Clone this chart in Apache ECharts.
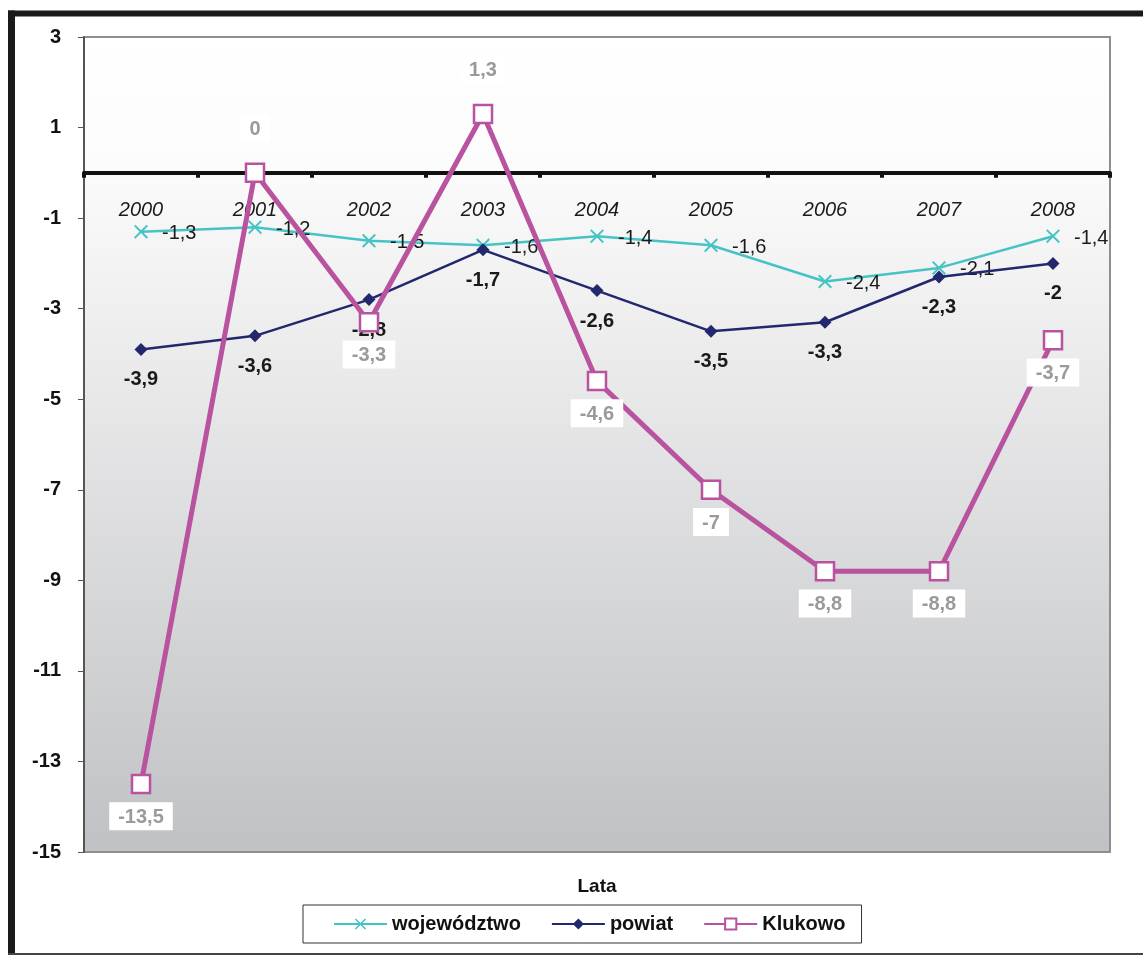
<!DOCTYPE html>
<html>
<head>
<meta charset="utf-8">
<title>Lata</title>
<script src="https://cdn.jsdelivr.net/npm/echarts@6/dist/echarts.min.js"></script>
<style>
    html, body { margin: 0; padding: 0; background: #fff; }
    #main { width: 1143px; height: 955px; }
</style>
</head>
<body>
<div id="main"></div>
<script>
// dane z wykresu
var lata = ['2000', '2001', '2002', '2003', '2004', '2005', '2006', '2007', '2008'];
var wojewodztwo = [-1.3, -1.2, -1.5, -1.6, -1.4, -1.6, -2.4, -2.1, -1.4];
var powiat = [-3.9, -3.6, -2.8, -1.7, -2.6, -3.5, -3.3, -2.3, -2.0];
var klukowo = [-13.5, 0, -3.3, 1.3, -4.6, -7, -8.8, -8.8, -3.7];
var osY = [3, 1, -1, -3, -5, -7, -9, -11, -13, -15];

var FONT = '"Liberation Sans", Arial, sans-serif';

// przecinek dziesiętny
function fmt(p) {
    return String(p.value).replace('.', ',');
}

var myChart = echarts.init(document.getElementById('main'));

var option = {
    animation: false,
    textStyle: { fontFamily: FONT },
    grid: {
        left: 84,
        right: 33,
        top: 37,
        bottom: 103,
        show: true,
        borderColor: '#8e8e8e',
        borderWidth: 2,
        backgroundColor: {
            type: 'linear', x: 0, y: 0, x2: 0, y2: 1,
            colorStops: [
                { offset: 0, color: '#ffffff' },
                { offset: 0.15, color: '#fcfcfc' },
                { offset: 1, color: '#c0c1c4' }
            ]
        }
    },
    legend: {
        left: 303,
        top: 905,
        padding: [9, 16, 9, 30],
        itemGap: 30,
        itemWidth: 53,
        itemHeight: 14,
        borderColor: '#333',
        borderWidth: 1,
        backgroundColor: '#fff',
        textStyle: { fontFamily: FONT, fontSize: 20, fontWeight: 'bold', color: '#111' },
        data: ['województwo', 'powiat', 'Klukowo']
    },
    graphic: [
        // ramka
        { type: 'line', shape: { x1: 8, y1: 13.5, x2: 1143, y2: 13.5 }, style: { stroke: '#1a1a1a', lineWidth: 6 } },
        { type: 'line', shape: { x1: 11.5, y1: 10.5, x2: 11.5, y2: 955 }, style: { stroke: '#1a1a1a', lineWidth: 7 } },
        { type: 'line', shape: { x1: 8, y1: 954, x2: 1143, y2: 954 }, style: { stroke: '#444', lineWidth: 2 } },
        {
            type: 'text', x: 597, y: 887,
            style: { text: 'Lata', font: 'bold 19px ' + FONT, fill: '#111', align: 'center', verticalAlign: 'middle' }
        }
    ],
    xAxis: [
        {
            // linia zera z kreskami
            type: 'category',
            data: lata,
            boundaryGap: true,
            axisLine: { onZero: true, lineStyle: { color: '#111', width: 4 } },
            axisTick: { show: true, length: 5, lineStyle: { color: '#111', width: 4 } },
            axisLabel: { show: false },
            splitLine: { show: false }
        },
        {
            // podpisy lat pod linią zera
            type: 'category',
            data: lata,
            boundaryGap: true,
            position: 'top',
            axisLine: { show: false },
            axisTick: { show: false },
            axisLabel: {
                inside: true, margin: 163,
                fontFamily: FONT, fontSize: 20, fontStyle: 'italic', color: '#1a1a1a'
            },
            splitLine: { show: false }
        }
    ],
    yAxis: {
        type: 'value',
        min: -15,
        max: 3,
        axisLine: { show: true, onZero: false, lineStyle: { color: '#555', width: 2 } },
        axisTick: { show: true, length: 6, customValues: osY, lineStyle: { color: '#555', width: 1 } },
        axisLabel: { fontFamily: FONT, fontSize: 20, fontWeight: 'bold', color: '#111', margin: 23, customValues: osY },
        splitLine: { show: false }
    },
    series: [
        {
            name: 'województwo',
            type: 'line',
            data: wojewodztwo,
            symbol: 'path://M0,1 L1,0 L5,4 L9,0 L10,1 L6,5 L10,9 L9,10 L5,6 L1,10 L0,9 L4,5 Z',
            symbolSize: 14,
            color: '#45c3c5',
            lineStyle: { color: '#45c3c5', width: 2.5 },
            itemStyle: { color: '#45c3c5' },
            label: {
                show: true, position: 'right', distance: 14, offset: [0, 2],
                fontFamily: FONT, fontSize: 20, color: '#1a1a1a', formatter: fmt
            },
            z: 2
        },
        {
            name: 'powiat',
            type: 'line',
            data: powiat,
            symbol: 'diamond',
            symbolSize: 13,
            color: '#22286e',
            lineStyle: { color: '#22286e', width: 2.5 },
            itemStyle: { color: '#22286e' },
            label: {
                show: true, position: 'bottom', distance: 14,
                fontFamily: FONT, fontSize: 20, fontWeight: 'bold', color: '#1a1a1a', formatter: fmt
            },
            z: 3
        },
        {
            name: 'Klukowo',
            type: 'line',
            data: klukowo.map(function (v) {
                return v >= 0 ? { value: v, label: { position: 'top', distance: 20 } } : v;
            }),
            symbol: 'rect',
            symbolSize: 18,
            color: '#b9529f',
            lineStyle: { color: '#b9529f', width: 5 },
            itemStyle: { color: '#ffffff', borderColor: '#b9529f', borderWidth: 2.5 },
            label: {
                show: true, position: 'bottom', distance: 8,
                fontFamily: FONT, fontSize: 20, fontWeight: 'bold', color: '#9a9a9a',
                backgroundColor: '#ffffff', padding: [5, 9, 3, 9], formatter: fmt
            },
            z: 4
        }
    ]
};

myChart.setOption(option);
</script>
</body>
</html>
